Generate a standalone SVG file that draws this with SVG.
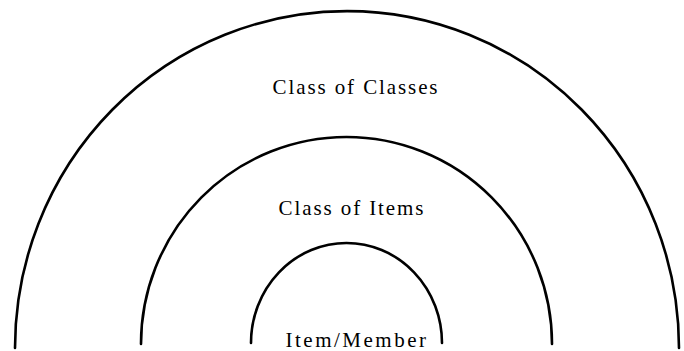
<svg xmlns="http://www.w3.org/2000/svg" width="684" height="351" viewBox="0 0 684 351">
<style>
.arc{fill:none;stroke:#000;stroke-width:2.6;stroke-linecap:round}
.lbl{font-family:"Liberation Serif","Times New Roman",serif;font-size:21px;fill:#000;text-anchor:middle;letter-spacing:1.9px}
</style>
<rect width="684" height="351" fill="#fff"/>
<g id="connectors"></g>
<g id="outer">
<path class="arc" d="M15,348 A332,337 0 0 1 679,348"/>
<text class="lbl" x="356" y="94">Class of Classes</text>
</g>
<g id="middle">
<path class="arc" d="M141,344 A205.5,207 0 0 1 552,344"/>
<text class="lbl" x="352" y="215">Class of Items</text>
</g>
<g id="inner">
<path class="arc" d="M251,343 A95.5,100 0 0 1 442,343"/>
<text class="lbl" x="357" y="347" style="letter-spacing:2.5px">Item/Member</text>
</g>
</svg>
